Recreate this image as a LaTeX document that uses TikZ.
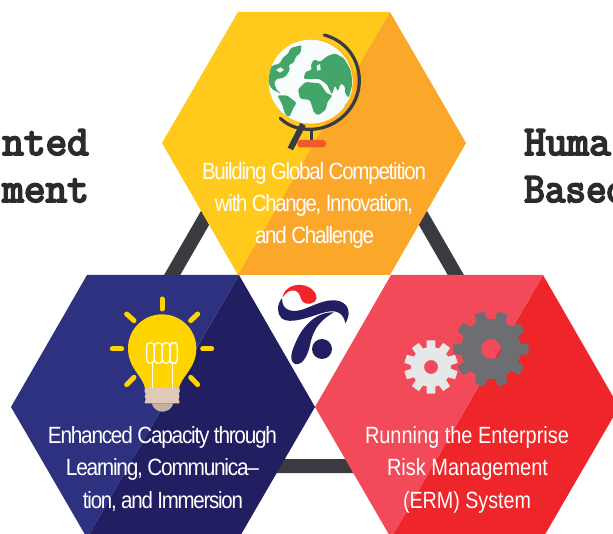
\documentclass[tikz,border=0pt]{standalone}
\usepackage{graphicx}
\usepackage{fontspec}
\setmainfont{Liberation Sans}
\newfontfamily\tightfont[LetterSpace=-6]{Liberation Sans}
\newfontfamily\typew[FakeBold=4.5]{Latin Modern Mono}
\definecolor{hexyellow}{HTML}{FFCA1B}
\definecolor{hexorange}{HTML}{FBA729}
\definecolor{hexnavya}{HTML}{2E3180}
\definecolor{hexnavyb}{HTML}{211F62}
\definecolor{hexreda}{HTML}{F24A59}
\definecolor{hexredb}{HTML}{EE2529}
\definecolor{linkgray}{HTML}{3A3B40}
\definecolor{sideink}{HTML}{2B2A2C}
\definecolor{globegreen}{HTML}{43A56A}
\definecolor{globewhite}{HTML}{F7FCFC}
\definecolor{standorange}{HTML}{F15A29}
\definecolor{bulbyellow}{HTML}{FFD500}
\definecolor{gearlight}{HTML}{E6E7E8}
\definecolor{geardark}{HTML}{6D6E71}
\definecolor{basea}{HTML}{E0C9B6}
\definecolor{baseb}{HTML}{C4B09F}
\newcommand{\fitw}[2]{\resizebox{#1pt}{\height}{#2}}
\tikzset{
  capline/.style={text=white,inner sep=0pt,font=\fontsize{23.5}{24}\selectfont,anchor=base},
  tightline/.style={capline,font=\fontsize{23.5}{24}\selectfont\tightfont},
  sidetext/.style={text=sideink,inner sep=0pt,font=\fontsize{42}{44}\selectfont\typew},
  link/.style={linkgray,line width=14pt},
  ray/.style={bulbyellow,line width=5pt,line cap=round},
  fil/.style={white,line width=1.3pt},
  land/.style={globegreen,rounded corners=1.5pt}
}
\begin{document}
\begin{tikzpicture}[x=1pt,y=-1pt]
\useasboundingbox (0,0) rectangle (613,534);
\clip (0,0) rectangle (613,534);
% side texts
\node[sidetext,anchor=base east] (leftone) at (89,155) {nted};
\node[sidetext,anchor=base east] (lefttwo) at (89,202) {ment};
\node[sidetext,anchor=base west] (rightone) at (524,155) {Huma};
\node[sidetext,anchor=base west] (righttwo) at (524,202) {\resizebox{103pt}{\height}{Based}};
% linking triangle
\coordinate (apex) at (314,29);
\coordinate (cornerl) at (62,466);
\coordinate (cornerr) at (566,466);
\draw[link] (apex) -- (cornerl) -- (cornerr) -- cycle;
% hexagons
\fill[hexyellow] (238,12) -- (390,12) -- (240,275) -- (238,275) -- (162,143) -- cycle;
\fill[hexorange] (390,12) -- (466,143) -- (390,275) -- (238,275) -- cycle;
\fill[hexnavyb] (239,275) -- (315,407) -- (239,538) -- (87,538) -- cycle;
\fill[hexnavya] (87,275) -- (239,275) -- (87,538) -- (11,407) -- cycle;
\fill[hexredb] (543,275) -- (619,407) -- (543,538) -- (391,538) -- cycle;
\fill[hexreda] (391,275) -- (543,275) -- (391,538) -- (315,407) -- cycle;
% globe
\begin{scope}[shift={(220,20)},xscale=1/3,yscale=1/3]
  \fill[hexyellow!70!orange] (277,187) circle (129);
  \fill[globewhite] (272,185) circle (126);
  \begin{scope}
    \clip (272,185) circle (126);
    % North America
    \fill[land] (146,150) -- (160,135) -- (178,132) -- (188,114) -- (205,100) -- (212,84) -- (245,75) -- (242,98) -- (226,112) -- (222,128) -- (206,134) -- (210,150) -- (196,170) -- (182,176) -- (170,176) -- (162,188) -- (170,210) -- (184,222) -- (172,216) -- (156,208) -- (146,190) -- cycle;
    \fill[globewhite] (168,150) -- (182,142) -- (192,150) -- (180,158) -- cycle;
    % South America
    \fill[land] (172,226) -- (200,226) -- (230,248) -- (220,264) -- (208,292) -- (196,284) -- (186,252) -- cycle;
    % Eurasia
    \fill[land] (272,136) -- (282,118) -- (300,126) -- (322,108) -- (345,100) -- (372,115) -- (392,150) -- (398,190) -- (386,234) -- (374,218) -- (376,200) -- (362,190) -- (354,214) -- (345,196) -- (336,224) -- (320,192) -- (296,176) -- (272,178) -- (250,176) -- (258,154) -- (276,150) -- cycle;
    \fill[globewhite] (290,138) -- (300,132) -- (302,150) -- (292,152) -- cycle;
    % Africa
    \fill[land] (234,208) -- (256,186) -- (300,190) -- (320,220) -- (338,226) -- (322,246) -- (318,268) -- (296,286) -- (282,278) -- (270,240) -- (240,236) -- cycle;
    % Australasia
    \fill[land] (370,262) -- (388,240) -- (396,254) -- (380,276) -- cycle;
  \end{scope}
  \draw[linkgray,line width=3.2pt,line cap=round] (313,45) .. controls (378,62) and (418,118) .. (418,182) .. controls (418,262) and (350,328) .. (270,328) .. controls (235,328) and (205,318) .. (181,295);
  \draw[linkgray,line width=3pt] (273,328) -- (273,362);
  \draw[linkgray,line width=6pt] (249,313) -- (211,387);
  \fill[standorange,rounded corners=3pt] (232,360) rectangle (318,382);
\end{scope}
% bulb
\begin{scope}[shift={(100,280)},xscale=1/3,yscale=1/3]
  \fill[bulbyellow] (135,325) .. controls (130,290) and (84,265) .. (84,205) .. controls (84,148) and (130,103) .. (186,103) .. controls (242,103) and (289,148) .. (289,205) .. controls (289,265) and (243,290) .. (237,325) -- cycle;
  \draw[fil,rounded corners=3.8pt] (140,188) rectangle (163,250);
  \draw[fil,rounded corners=3.8pt] (163,188) rectangle (187,250);
  \draw[fil,rounded corners=3.8pt] (187,188) rectangle (210,250);
  \draw[fil,rounded corners=3.8pt] (210,188) rectangle (232,250);
  \draw[fil] (157,250) -- (157,325);
  \draw[fil] (217,250) -- (217,325);
  \fill[baseb] (155,370) .. controls (160,388) and (175,395) .. (187,395) .. controls (200,395) and (215,388) .. (220,370) -- cycle;
  \fill[basea,rounded corners=1pt] (135,323) -- (238,323) -- (240,336) -- (235,341) -- (240,350) -- (235,356) -- (240,370) -- (133,370) -- (138,356) -- (133,350) -- (138,341) -- (133,336) -- cycle;
  \draw[ray] (186,57) -- (186,87);
  \draw[ray] (80,102) -- (102,122);
  \draw[ray] (293,102) -- (272,122);
  \draw[ray] (37,207) -- (65,207);
  \draw[ray] (335,207) -- (308,207);
  \draw[ray] (102,292) -- (80,314);
  \draw[ray] (272,292) -- (293,314);
\end{scope}
% logo
\begin{scope}[shift={(260,270)},xscale=1/3,yscale=1/3]
  \fill[hexredb] (68,82) .. controls (72,55) and (100,42) .. (125,45) .. controls (150,48) and (170,65) .. (170,85) .. controls (168,100) and (140,108) .. (128,95) .. controls (118,85) and (125,70) .. (105,62) .. controls (90,58) and (78,68) .. (68,82) -- cycle;
  \fill[hexnavyb] (66,84) .. controls (50,105) and (50,130) .. (65,145) .. controls (90,165) and (150,140) .. (190,128) .. controls (225,118) and (250,125) .. (256,160) .. controls (272,135) and (270,105) .. (240,94) .. controls (205,82) and (165,105) .. (130,118) .. controls (100,128) and (65,125) .. (66,84) -- cycle;
  \fill[hexnavyb] (222,127) .. controls (170,125) and (130,165) .. (108,215) .. controls (95,245) and (85,270) .. (105,282) .. controls (130,288) and (145,250) .. (150,225) .. controls (158,180) and (180,150) .. (222,127) -- cycle;
  \fill[hexnavyb] (186,237) circle (30);
\end{scope}
% gears
\fill[gearlight,even odd rule,shift={(431,367)}] (18-13:20) foreach \t in {0,...,9} {
    -- (36*\t+18-13:20) -- (36*\t+18-9:27) -- (36*\t+18+9:27) -- (36*\t+18+13:20)} -- cycle
    (0,0) circle (7);
\fill[geardark,even odd rule,shift={(491,349)}] (-11:30) foreach \t in {0,...,9} {
    -- (36*\t-11:30) -- (36*\t-7.5:38) -- (36*\t+7.5:38) -- (36*\t+11:30)} -- cycle
    (0,0) circle (10);
% captions
\node[tightline] (topa) at (314,180) {\fitw{224}{Building Global Competition}};
\node[tightline] (topb) at (314,212) {\fitw{198}{with Change, Innovation,}};
\node[tightline] (topc) at (314.5,244) {\fitw{119}{and Challenge}};
\node[tightline] (lefta) at (162.5,443) {\fitw{229}{Enhanced Capacity through}};
\node[tightline] (leftb) at (162.5,475) {\fitw{193}{Learning, Communica–}};
\node[tightline] (leftc) at (163,508) {\fitw{160}{tion, and Immersion}};
\node[capline] (righta) at (467,443) {\fitw{204}{Running the Enterprise}};
\node[capline] (rightb) at (467.5,475) {\fitw{161}{Risk Management}};
\node[capline] (rightc) at (467,508) {\fitw{128}{(ERM) System}};
\end{tikzpicture}
\end{document}
